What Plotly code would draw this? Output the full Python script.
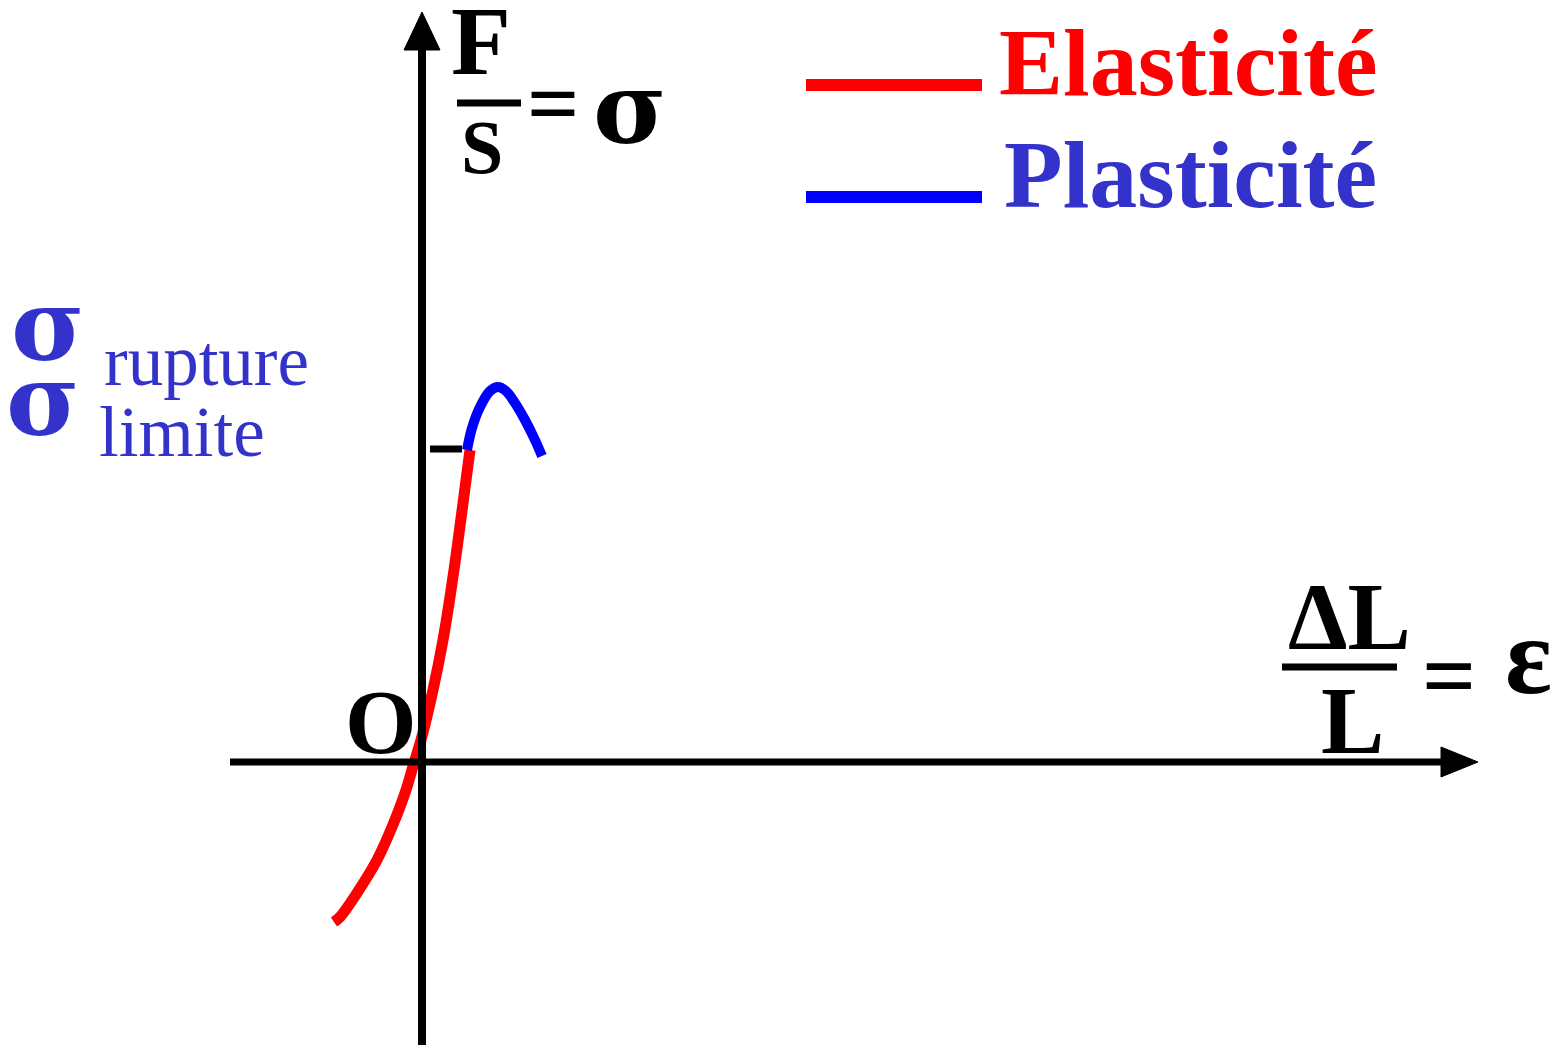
import plotly.graph_objects as go

# ---- data (strain epsilon, stress sigma; arbitrary units) ----
eps_elastic = [-0.88, -0.82, -0.65, -0.45, -0.30, -0.17, -0.08, -0.01, 0.11, 0.21, 0.28, 0.345, 0.405, 0.48]
sig_elastic = [-1.60, -1.55, -1.31, -0.98, -0.65, -0.31, -0.01, 0.22, 0.72, 1.22, 1.65, 2.10, 2.55, 3.12]
eps_plastic = [0.45, 0.50, 0.58, 0.68, 0.76, 0.84, 0.93, 1.03, 1.13, 1.20]
sig_plastic = [3.12, 3.34, 3.55, 3.71, 3.75, 3.71, 3.59, 3.42, 3.22, 3.06]
sigma_limite = 3.13

W, H = 1558, 1045
OX, OY, SC = 422, 762, 100.0   # origin in pixels, pixels per unit


def d(px, py):
    return (px - OX) / SC, (OY - py) / SC


SERIF = "Liberation Serif, Times New Roman, serif"
GREEK = "DejaVu Serif, Liberation Serif, serif"
RED = "#ff0000"
BLUE = "#0000ff"
VIOLET = "#3333cc"

fig = go.Figure()
fig.add_trace(go.Scatter(x=eps_elastic, y=sig_elastic, mode="lines",
                         line=dict(color=RED, width=11, shape="spline", smoothing=1.0),
                         name="Elasticité", showlegend=False))
fig.add_trace(go.Scatter(x=eps_plastic, y=sig_plastic, mode="lines",
                         line=dict(color=BLUE, width=10, shape="spline", smoothing=1.0),
                         name="Plasticité", showlegend=False))

shapes = []
# axes
x0, y0 = d(422, 1045)
x1, y1 = d(422, 48)
shapes.append(dict(type="line", x0=x0, y0=y0, x1=x1, y1=y1, line=dict(color="black", width=8)))
tx, ty = d(422, 12)
bl = d(404, 50)
br = d(440, 50)
shapes.append(dict(type="path", path=f"M {bl[0]},{bl[1]} L {tx},{ty} L {br[0]},{br[1]} Z",
                   fillcolor="black", line=dict(color="black", width=1)))
hx0, hy0 = d(230, 762)
hx1, hy1 = d(1444, 762)
shapes.append(dict(type="line", x0=hx0, y0=hy0, x1=hx1, y1=hy1, line=dict(color="black", width=7)))
ht = d(1478, 762)
hb = d(1441, 747)
hc = d(1441, 777)
shapes.append(dict(type="path", path=f"M {hb[0]},{hb[1]} L {ht[0]},{ht[1]} L {hc[0]},{hc[1]} Z",
                   fillcolor="black", line=dict(color="black", width=1)))
# limit tick
lx0, _ = d(430, 0)
lx1, _ = d(462, 0)
shapes.append(dict(type="line", x0=lx0, y0=sigma_limite, x1=lx1, y1=sigma_limite,
                   line=dict(color="black", width=7)))
# fraction bars
for (a, b, yy) in [(457, 521, 103), (1282, 1397, 667)]:
    p0 = d(a, yy)
    p1 = d(b, yy)
    shapes.append(dict(type="line", x0=p0[0], y0=p0[1], x1=p1[0], y1=p1[1],
                       line=dict(color="black", width=7)))
# legend swatches
for (yy, col) in [(85, RED), (197, BLUE)]:
    p0 = d(806, yy)
    p1 = d(982, yy)
    shapes.append(dict(type="line", x0=p0[0], y0=p0[1], x1=p1[0], y1=p1[1],
                       line=dict(color=col, width=12)))

annotations = []


def txt(text, px, py, size, color="black", bold=True, xanchor="center", family=SERIF):
    x, y = d(px, py)
    t = f"<b>{text}</b>" if bold else text
    annotations.append(dict(x=x, y=y, xref="x", yref="y", text=t, showarrow=False,
                            xanchor=xanchor, yanchor="middle",
                            font=dict(family=family, size=size, color=color)))


txt("F", 481, 41, 98)
txt("S", 482, 147, 76)
txt("=", 553, 103, 92)
txt("σ", 630, 108, 100, family=GREEK)
txt("Elasticité", 997, 62, 96, RED, xanchor="left")
txt("Plasticité", 1002, 174, 96, VIOLET, xanchor="left")
txt("σ", 48, 325, 100, VIOLET, family=GREEK)
txt("σ", 43, 400, 100, VIOLET, family=GREEK)
txt("rupture", 102, 361, 71, VIOLET, bold=False, xanchor="left")
txt("limite", 97, 432, 71, VIOLET, bold=False, xanchor="left")
txt("O", 381, 722, 92)
txt("ΔL", 1349, 617, 95)
txt("L", 1352, 721, 95)
txt("=", 1449, 676, 95)
txt("ε", 1528, 656, 110)

xr0, yr0 = d(0, H)
xr1, yr1 = d(W, 0)
fig.update_layout(
    width=W, height=H,
    margin=dict(l=0, r=0, t=0, b=0),
    paper_bgcolor="white", plot_bgcolor="white",
    xaxis=dict(range=[xr0, xr1], visible=False, fixedrange=True),
    yaxis=dict(range=[yr0, yr1], visible=False, fixedrange=True),
    shapes=shapes, annotations=annotations, showlegend=False,
)

fig.write_html("out.html", config={"displayModeBar": False},
               post_script="document.body.style.margin='0';document.body.style.overflow='hidden';")
